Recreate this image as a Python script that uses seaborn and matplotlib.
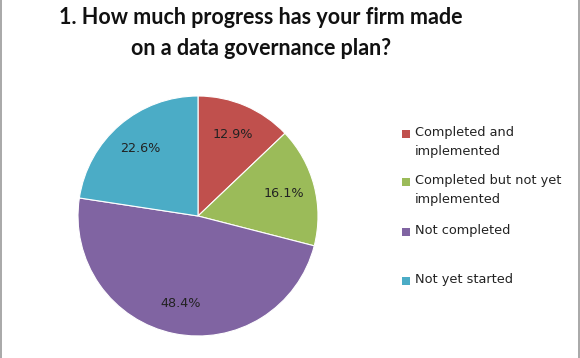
import matplotlib
matplotlib.use("Agg")
import matplotlib.pyplot as plt
from matplotlib.patches import Rectangle
from matplotlib.lines import Line2D
import seaborn as sns

categories = ["Completed and\nimplemented", "Completed but not yet\nimplemented",
              "Not completed", "Not yet started"]
values = [12.9, 16.1, 48.4, 22.6]
colors = ["#C0504D", "#9BBB59", "#8064A2", "#4BACC6"]
title = "1. How much progress has your firm made\non a data governance plan?"

sns.set_theme(style="white")
palette = sns.color_palette(colors)

W, H = 580, 358
fig = plt.figure(figsize=(W / 100, H / 100), dpi=100)
fig.patch.set_facecolor("white")

cx, cy, r = 198, 216, 120
ax = fig.add_axes([(cx - r) / W, (H - cy - r) / H, 2 * r / W, 2 * r / H])
ax.pie(values, colors=palette, startangle=90, counterclock=False,
       autopct="%.1f%%", pctdistance=0.74, radius=1,
       wedgeprops=dict(edgecolor="white", linewidth=0.8),
       textprops=dict(fontsize=9.2, color="#222222", family="DejaVu Sans"))
ax.set_xlim(-1, 1)
ax.set_ylim(-1, 1)
ax.set_aspect("equal")
ax.axis("off")

fig.text(261 / W, 1 - 33 / H, title, ha="center", va="center",
         fontsize=15.5, fontweight="bold", family="Lato", linespacing=1.6,
         color="#111111")

# legend entries
ys = [134, 182, 232, 281]
for lab, col, y in zip(categories, palette, ys):
    fig.add_artist(Rectangle((402 / W, 1 - (y + 4) / H), 8 / W, 8 / H,
                             transform=fig.transFigure, facecolor=col,
                             edgecolor="none"))
    fig.text(415 / W, 1 - (y - 8) / H, lab, ha="left", va="top",
             fontsize=9.3, family="DejaVu Sans", color="#222222",
             linespacing=1.65)

for x in [1, 579]:
    fig.add_artist(Line2D([x / W, x / W], [0, 1], transform=fig.transFigure,
                          color="#999999", linewidth=1.2))

fig.savefig("out.png", dpi=100, facecolor="white")
